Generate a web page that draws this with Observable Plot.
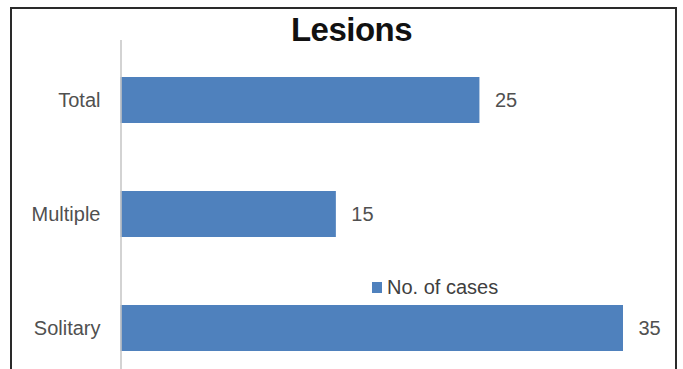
<!DOCTYPE html>
<html>
<head>
<meta charset="utf-8">
<script src="https://cdn.jsdelivr.net/npm/d3@7"></script>
<script src="https://cdn.jsdelivr.net/npm/@observablehq/plot@0.6"></script>
<style>
  html, body { margin: 0; padding: 0; background: #fff; overflow: hidden; }
  #wrap { position: relative; width: 683px; height: 369px; font-family: "Liberation Sans", Arial, sans-serif; }
  #frame { position: absolute; left: 10px; top: 7px; width: 667px; height: 400px; border: 2px solid #2a2a2a; box-sizing: border-box; }
  #title { position: absolute; left: 0; width: 703px; top: 11px; text-align: center; font-size: 33px; font-weight: bold; color: #111; letter-spacing: -0.5px; }
  #legend { position: absolute; left: 372px; top: 276px; font-size: 20px; color: #404040; display: flex; align-items: center; white-space: nowrap; }
  #legend .sw { width: 10px; height: 11px; margin-right: 5px; display: inline-block; }
  #chart { position: absolute; left: 0; top: 0; }
</style>
</head>
<body>
<div id="wrap">
  <div id="frame"></div>
  <div id="chart"></div>
  <div id="title"></div>
  <div id="legend"></div>
</div>
<script>
const chartTitle = "Lesions";
const categories = ["Total", "Multiple", "Solitary"];
const cases = [25, 15, 35];
const seriesName = "No. of cases";
const barColor = "#4f81bd";

const data = categories.map((c, i) => ({category: c, value: cases[i]}));

document.getElementById("title").textContent = chartTitle;
const leg = document.getElementById("legend");
const sw = document.createElement("span");
sw.className = "sw";
sw.style.background = barColor;
leg.appendChild(sw);
leg.appendChild(document.createTextNode(seriesName));

const plot = Plot.plot({
  width: 683,
  height: 369,
  marginLeft: 120,
  marginTop: 40,
  marginBottom: 0,
  marginRight: 0,
  style: {fontFamily: "'Liberation Sans', Arial, sans-serif", background: "transparent", overflow: "visible"},
  x: {domain: [0, 35], range: [120.5, 623], axis: null},
  y: {domain: categories, range: [42, 385], paddingInner: 0.6, paddingOuter: 0.3, align: 0.5},
  marks: [
    Plot.barX(data, {x: "value", y: "category", fill: barColor}),
    Plot.ruleX([0], {stroke: "#c4c4c4", strokeWidth: 1.5}),
    Plot.text(data, {x: "value", y: "category", text: d => String(d.value), textAnchor: "start", dx: 15, fontSize: 20, fill: "#505050"}),
    Plot.axisY({tickSize: 0, tickPadding: 20, fontSize: 20, color: "#505050", label: null})
  ]
});
document.getElementById("chart").appendChild(plot);
</script>
</body>
</html>
